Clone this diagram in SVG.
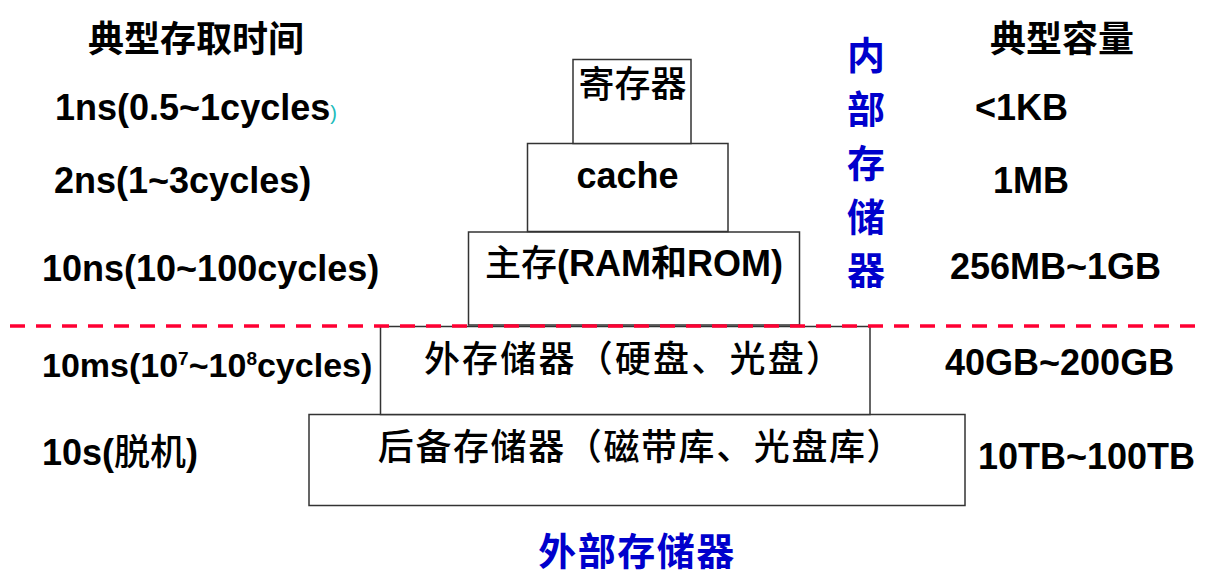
<svg xmlns="http://www.w3.org/2000/svg" width="1212" height="580" viewBox="0 0 1212 580">
<style>
.bg{fill:#ffffff}
.box{fill:#ffffff;stroke:#333333;stroke-width:1.5}
.lbl{font-family:"Liberation Sans","Noto Sans CJK SC",sans-serif;font-weight:bold;font-size:36px;fill:#000000}
.cjk{font-family:"Noto Sans CJK SC","Liberation Sans",sans-serif;font-size:36px;font-weight:500;fill:#000000}
.hdr{font-family:"Noto Sans CJK SC",sans-serif;font-weight:bold;font-size:36px;fill:#000000}
.blue{font-family:"Noto Sans CJK SC",sans-serif;font-weight:bold;font-size:38px;fill:#0000cc}
.sep{stroke:#ff0033;stroke-width:3.5;stroke-dasharray:15 11;fill:none}
</style>
<rect class="bg" x="0" y="0" width="1212" height="580"/>

<g id="node-backup">
<rect class="box" x="309" y="414.5" width="656" height="91"/>
<text class="cjk" x="641" y="460" text-anchor="middle" letter-spacing="1.6">后备存储器（磁带库、光盘库）</text>
</g>

<g id="node-external">
<rect class="box" x="380.5" y="326.5" width="489.5" height="88"/>
<text class="cjk" x="634" y="372" text-anchor="middle" letter-spacing="2.2">外存储器（硬盘、光盘）</text>
</g>

<g id="node-main">
<rect class="box" x="468.5" y="232" width="331" height="93"/>
<text class="lbl" x="634" y="276" text-anchor="middle"><tspan font-family="Noto Sans CJK SC" font-weight="500">主存</tspan>(RAM和ROM)</text>
</g>

<g id="node-cache">
<rect class="box" x="527.5" y="143.5" width="200.5" height="88"/>
<text class="lbl" x="627.5" y="188" text-anchor="middle">cache</text>
</g>

<g id="node-register">
<rect class="box" x="573" y="59.5" width="118" height="84"/>
<text class="cjk" x="632.5" y="97" text-anchor="middle">寄存器</text>
</g>

<g id="headers">
<text class="hdr" x="88" y="52">典型存取时间</text>
<text class="hdr" x="990" y="52">典型容量</text>
</g>

<g id="times">
<text class="lbl" x="55" y="120">1ns(0.5~1cycles<tspan font-size="20" font-weight="normal" fill="#22bbbb">)</tspan></text>
<text class="lbl" x="54" y="193">2ns(1~3cycles)</text>
<text class="lbl" x="42" y="281">10ns(10~100cycles)</text>
<text class="lbl" x="42" y="377" style="font-size:34px">10ms(10<tspan font-size="19" dy="-12">7</tspan><tspan dy="12">~10</tspan><tspan font-size="19" dy="-12">8</tspan><tspan dy="12">cycles)</tspan></text>
<text class="lbl" x="42" y="465">10s(<tspan font-family="Noto Sans CJK SC" font-weight="500">脱机</tspan>)</text>
</g>

<g id="capacities">
<text class="lbl" x="975" y="120">&lt;1KB</text>
<text class="lbl" x="993" y="193">1MB</text>
<text class="lbl" x="950" y="279">256MB~1GB</text>
<text class="lbl" x="945" y="375">40GB~200GB</text>
<text class="lbl" x="978" y="469">10TB~100TB</text>
</g>

<g id="connectors">
<line class="sep" x1="10" y1="326" x2="1204" y2="326"/>
</g>

<g id="internal-label">
<text class="blue" x="866" y="69" text-anchor="middle">内</text>
<text class="blue" x="866" y="123" text-anchor="middle">部</text>
<text class="blue" x="866" y="177" text-anchor="middle">存</text>
<text class="blue" x="866" y="231" text-anchor="middle">储</text>
<text class="blue" x="866" y="284" text-anchor="middle">器</text>
</g>

<g id="external-label">
<text class="blue" x="637" y="565" text-anchor="middle" letter-spacing="1.5">外部存储器</text>
</g>
</svg>
